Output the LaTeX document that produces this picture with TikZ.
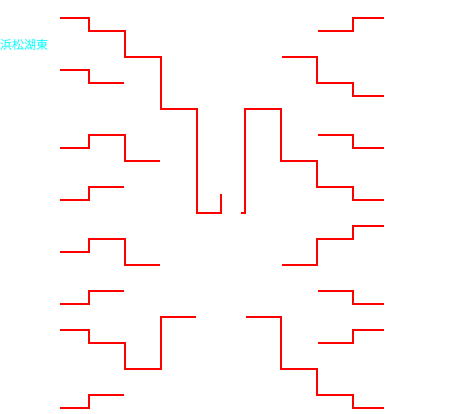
\documentclass[tikz,border=0pt]{standalone}
\usepackage{fontspec}
\usepackage{xcolor}
\usepackage{tikz}
\newfontfamily\cjk{Noto Sans CJK JP}
\definecolor{brkred}{RGB}{255,0,0}
\definecolor{lblcyan}{RGB}{0,255,255}
\tikzset{
  brk/.style={draw=brkred, line width=2pt},
  lbl/.style={font=\cjk\fontsize{12}{12}\selectfont, text=lblcyan, inner sep=0pt, anchor=west}
}
\begin{document}
\begin{tikzpicture}[x=1pt, y=-1pt]
\useasboundingbox (0,0) rectangle (449,414);
% ---- label ----
\node[lbl] (name) at (0,44.5) {浜松湖東};
% ---- first round, left ----
\foreach \ya/\yb in {70/83, 200/187, 304/291, 408/395}{
  \draw[brk] (60,\ya) -- (89,\ya) -- (89,\yb) -- (124,\yb);}
% ---- first round, right ----
\foreach \ya/\yb in {31/18, 135/148, 291/304, 343/330}{
  \draw[brk] (318,\ya) -- (353,\ya) -- (353,\yb) -- (384,\yb);}
% ---- second round, left ----
\foreach \ya/\yb/\yc in {148/135/161, 252/239/265}{
  \draw[brk] (60,\ya) -- (89,\ya) -- (89,\yb) -- (125,\yb) -- (125,\yc) -- (160,\yc);}
% ---- second round, right ----
\foreach \ya/\yb/\yc in {57/83/96, 265/239/226}{
  \draw[brk] (282,\ya) -- (317,\ya) -- (317,\yb) -- (353,\yb) -- (353,\yc) -- (384,\yc);}
% ---- long runs, left ----
\draw[brk] (60,18) -- (89,18) -- (89,31) -- (125,31) -- (125,57) -- (161,57)
  -- (161,109) -- (197,109) -- (197,213) -- (221,213) -- (221,194);
\draw[brk] (60,330) -- (89,330) -- (89,343) -- (125,343) -- (125,369) -- (161,369)
  -- (161,317) -- (196,317);
% ---- long runs, right ----
\draw[brk] (241,213) -- (245,213) -- (245,109) -- (281,109) -- (281,161) -- (317,161)
  -- (317,187) -- (353,187) -- (353,200) -- (384,200);
\draw[brk] (246,317) -- (281,317) -- (281,369) -- (317,369) -- (317,395) -- (353,395)
  -- (353,408) -- (384,408);
\end{tikzpicture}
\end{document}
